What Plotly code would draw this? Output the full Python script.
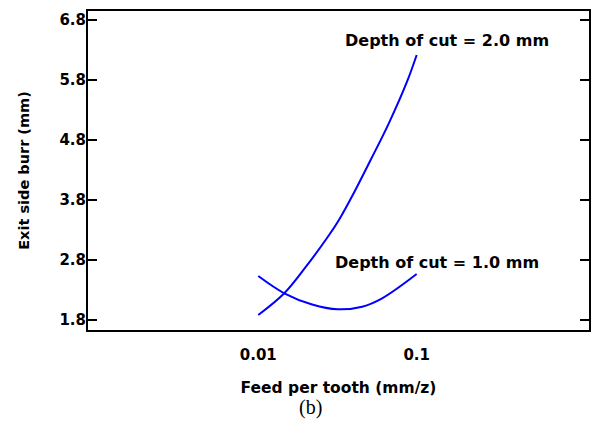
import plotly.graph_objects as go

# Feed per tooth (mm/z) sample points
feed_d2 = [0.01, 0.0146, 0.0200, 0.0280, 0.0323, 0.0401, 0.0512, 0.0667, 0.0869, 0.1]
burr_d2 = [1.883, 2.245, 2.688, 3.217, 3.467, 3.917, 4.467, 5.078, 5.772, 6.217]

feed_d1 = [0.01, 0.0146, 0.0219, 0.0316, 0.0453, 0.0605, 0.1]
burr_d1 = [2.533, 2.245, 2.058, 1.978, 2.022, 2.162, 2.567]

x_tickvals = [0.01, 0.1]
x_ticktext = ["0.01", "0.1"]
y_tickvals = [1.8, 2.8, 3.8, 4.8, 5.8, 6.8]
y_ticktext = ["1.8", "2.8", "3.8", "4.8", "5.8", "6.8"]

label_d2 = "Depth of cut = 2.0 mm"
label_d1 = "Depth of cut = 1.0 mm"

BOLD = dict(family="DejaVu Sans", weight="bold", color="black")

fig = go.Figure()
fig.add_trace(go.Scatter(x=feed_d2, y=burr_d2, mode="lines",
                         line=dict(color="#0000FF", width=2, shape="spline", smoothing=1.0),
                         showlegend=False, hoverinfo="skip"))
fig.add_trace(go.Scatter(x=feed_d1, y=burr_d1, mode="lines",
                         line=dict(color="#0000FF", width=2, shape="spline", smoothing=1.0),
                         showlegend=False, hoverinfo="skip"))

fig.add_annotation(text=label_d2, xref="paper", yref="paper", x=0.716, y=0.909,
                   showarrow=False, font=dict(size=16, **BOLD), xanchor="center", yanchor="middle")
fig.add_annotation(text=label_d1, xref="paper", yref="paper", x=0.696, y=0.213,
                   showarrow=False, font=dict(size=16, **BOLD), xanchor="center", yanchor="middle")
fig.add_annotation(text="(b)", xref="paper", yref="paper", x=(311 - 88) / 503, y=-(407 - 330) / 319,
                   showarrow=False, font=dict(size=20, family="Liberation Serif", color="black"),
                   xanchor="center", yanchor="middle")

fig.update_xaxes(type="log", range=[-3.075, 0.088],
                 tickvals=x_tickvals, ticktext=x_ticktext,
                 ticks="", showgrid=False, zeroline=False,
                 showline=True, linecolor="black", linewidth=2, mirror=True,
                 tickfont=dict(size=15, **BOLD), ticklabelstandoff=10,
                 title=dict(text="Feed per tooth (mm/z)", font=dict(size=15.5, **BOLD), standoff=19))
fig.update_yaxes(range=[1.633, 6.95],
                 tickvals=y_tickvals, ticktext=y_ticktext,
                 ticks="inside", ticklen=9, tickwidth=2, tickcolor="black",
                 showgrid=False, zeroline=False,
                 showline=True, linecolor="black", linewidth=2, mirror="ticks",
                 tickfont=dict(size=15, **BOLD), ticklabelstandoff=-3,
                 title=dict(text="Exit side burr (mm)", font=dict(size=14.5, **BOLD), standoff=26))

fig.update_layout(width=593, height=430,
                  margin=dict(l=88, r=2, t=11, b=100),
                  paper_bgcolor="white", plot_bgcolor="white")

fig.write_html("out.html")
